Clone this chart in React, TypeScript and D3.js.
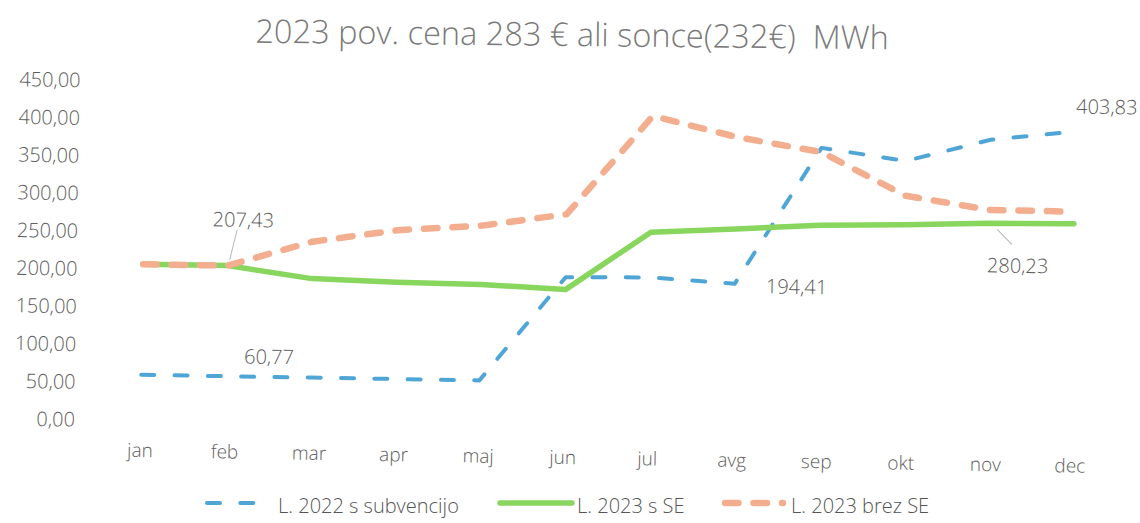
import React, { useEffect, useRef } from "react";
import * as d3 from "d3";

// months on the x axis
const months = ["jan", "feb", "mar", "apr", "maj", "jun", "jul", "avg", "sep", "okt", "nov", "dec"];

// €/MWh
const subv2022 = [60.77, 60.77, 60.77, 60.77, 60.77, 199.5, 201, 194.41, 376.5, 361, 391, 403.83];
const se2023 = [207.43, 207.43, 192, 189, 188, 183, 261, 267, 274, 276.5, 280.23, 281.4];
const brezSe2023 = [207.43, 207.43, 241, 258, 266, 283, 415, 389, 371, 315, 298, 297.5];

const yTicks = [0, 50, 100, 150, 200, 250, 300, 350, 400, 450];
const seriesNames = ["L. 2022 s subvencijo", "L. 2023 s SE", "L. 2023 brez SE"];
const chartTitle = "2023 pov. cena 283 € ali sonce(232€)  MWh";

// data labels that were dragged by hand in the original
const pointLabels = [
  { series: 0, month: 1, dx: 43, dy: -20, leader: null },
  { series: 1, month: 1, dx: 15, dy: -46, leader: [2, -6, 9, -36] },
  { series: 0, month: 7, dx: 62, dy: 2, leader: null },
  { series: 1, month: 10, dx: 29, dy: 42, leader: [8, 6, 23, 21] },
  { series: 0, month: 11, dx: 31, dy: -25, leader: null },
];

const FONT = "'Open Sans', sans-serif";

export default function App() {
  const ref = useRef<SVGSVGElement>(null);

  useEffect(() => {
    const svg = d3.select(ref.current);
    svg.selectAll("*").remove();

    const allSeries = [subv2022, se2023, brezSe2023];
    const colors = ["#4ea5d6", "#88d65e", "#f2ae8e"];
    const widths = [4, 5.5, 6.5];
    const dashes = ["13 20.3", null, "13.5 15"];

    const x = d3.scalePoint().domain(months).range([140.5, 1070.5]);
    const y = d3.scaleLinear().domain([0, 450]).range([420.6, 81.2]);
    const fmt = (v: number) => d3.format(".2f")(v).replace(".", ",");

    // the scan is tilted a little, so is the plot
    const plot = svg.append("g").attr("transform", "rotate(0.95, 140, 420)")
      .attr("font-family", FONT).attr("font-weight", 300);

    plot.selectAll(".ytick").data(yTicks).join("text")
      .attr("class", "ytick")
      .attr("x", 75)
      .attr("y", d => y(d))
      .attr("dy", "0.35em")
      .attr("text-anchor", "end")
      .attr("font-size", 20)
      .attr("fill", "#5e5e5e")
      .text(d => fmt(d));

    plot.selectAll(".xtick").data(months).join("text")
      .attr("class", "xtick")
      .attr("x", d => x(d)!)
      .attr("y", 457)
      .attr("text-anchor", "middle")
      .attr("font-size", 19)
      .attr("fill", "#5e5e5e")
      .text(d => d);

    const line = d3.line<number>()
      .x((d, i) => x(months[i])!)
      .y(d => y(d));

    plot.selectAll(".series").data(allSeries).join("path")
      .attr("class", "series")
      .attr("d", d => line(d))
      .attr("fill", "none")
      .attr("stroke", (d, i) => colors[i])
      .attr("stroke-width", (d, i) => widths[i])
      .attr("stroke-dasharray", (d, i) => dashes[i])
      .attr("stroke-linecap", "round")
      .attr("stroke-linejoin", "round");

    pointLabels.forEach(l => {
      const px = x(months[l.month])!;
      const py = y(allSeries[l.series][l.month]);
      if (l.leader) {
        plot.append("line")
          .attr("x1", px + l.leader[0]).attr("y1", py + l.leader[1])
          .attr("x2", px + l.leader[2]).attr("y2", py + l.leader[3])
          .attr("stroke", "#b5b5b5").attr("stroke-width", 1);
      }
      plot.append("text")
        .attr("x", px + l.dx)
        .attr("y", py + l.dy)
        .attr("dy", "0.35em")
        .attr("text-anchor", "middle")
        .attr("font-size", 20)
        .attr("fill", "#5a5a5a")
        .text(fmt(allSeries[l.series][l.month]));
    });

    svg.append("text")
      .attr("x", 572)
      .attr("y", 46)
      .attr("transform", "rotate(0.6, 572, 46)")
      .attr("text-anchor", "middle")
      .attr("font-family", FONT)
      .attr("font-weight", 300)
      .attr("font-size", 32.5)
      .attr("fill", "#7a7a7a")
      .style("white-space", "pre")
      .text(chartTitle);

    // legend
    const legendX = [[207, 255, 278], [500, 572, 577], [725, 783, 791]];
    const leg = svg.append("g").attr("font-family", FONT).attr("font-weight", 300);
    seriesNames.forEach((name, i) => {
      leg.append("line")
        .attr("x1", legendX[i][0]).attr("x2", legendX[i][1])
        .attr("y1", 503).attr("y2", 503)
        .attr("stroke", colors[i])
        .attr("stroke-width", widths[i])
        .attr("stroke-dasharray", dashes[i])
        .attr("stroke-linecap", "round");
      leg.append("text")
        .attr("x", legendX[i][2])
        .attr("y", 513)
        .attr("font-size", 20)
        .attr("fill", "#555")
        .text(name);
    });
  }, []);

  return (
    <svg ref={ref} width={1140} height={523}
      style={{ position: "absolute", left: 0, top: 0, background: "#fff" }} />
  );
}
